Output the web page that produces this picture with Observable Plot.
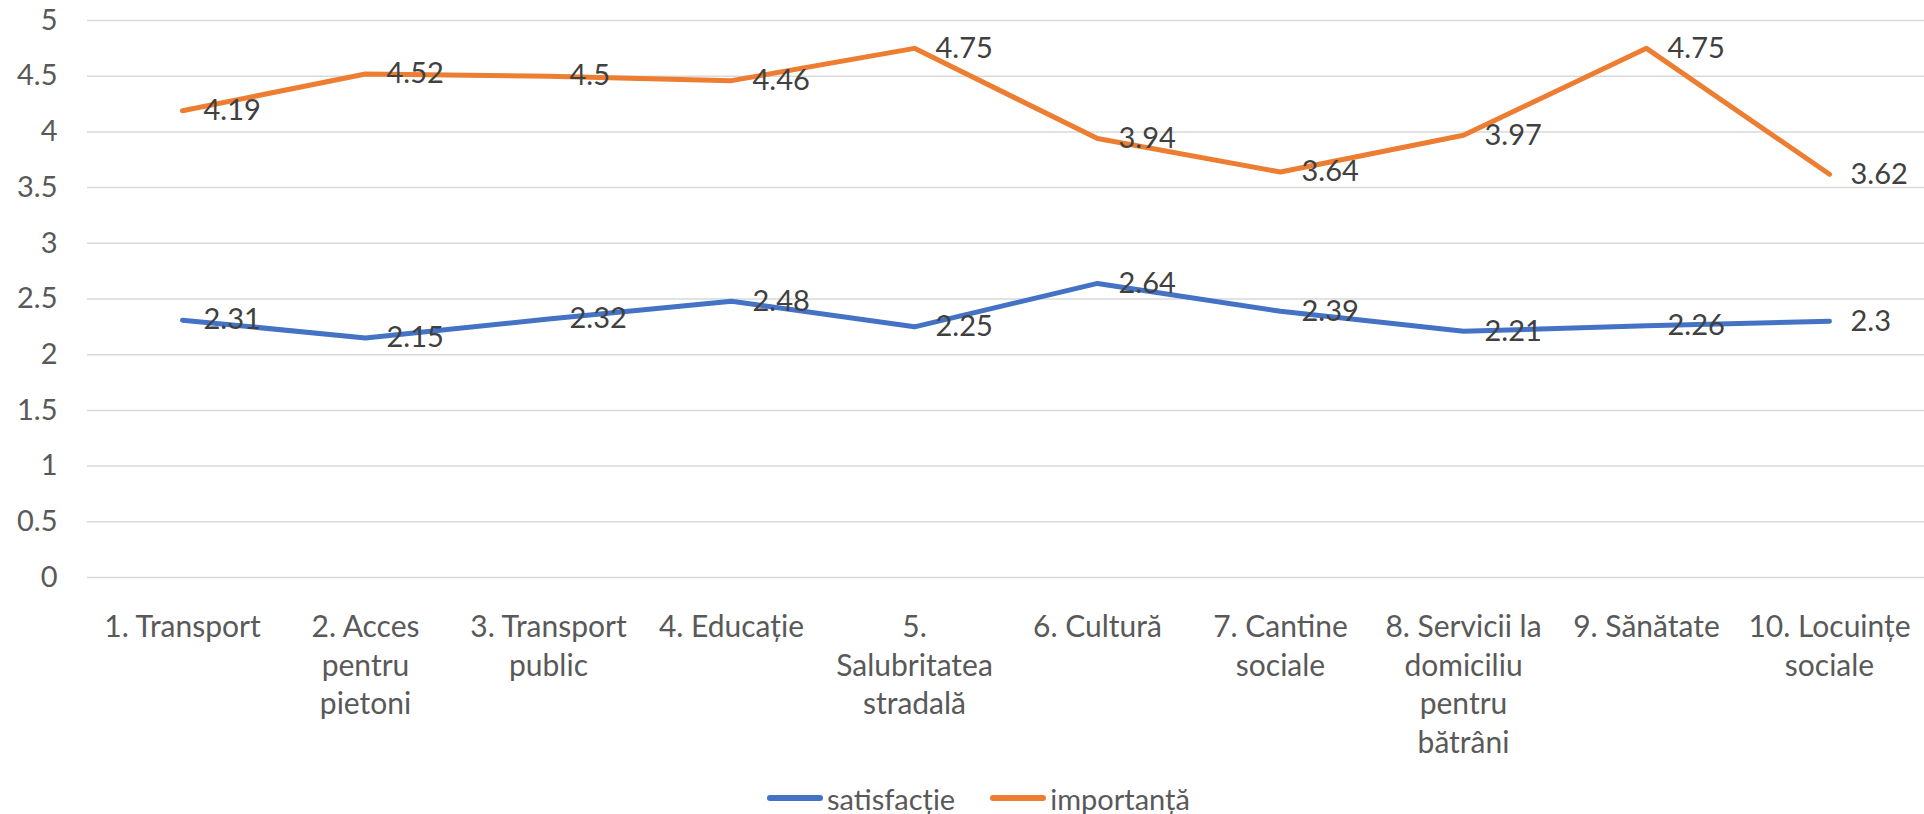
<!DOCTYPE html>
<html>
<head>
<meta charset="utf-8">
<script src="https://cdn.jsdelivr.net/npm/d3@7"></script>
<script src="https://cdn.jsdelivr.net/npm/@observablehq/plot@0.6"></script>
<style>
  html, body { margin: 0; padding: 0; background: #fff; }
  body { width: 1924px; height: 814px; overflow: hidden; font-family: Lato, "Open Sans", sans-serif; }
  #chart svg { display: block; }
  #legend { box-sizing: border-box; display: flex; align-items: center; height: 49px; padding-top: 17px; padding-left: 767px; color: #595959; font-size: 29px; line-height: 1; }
  .item { display: flex; align-items: center; margin-right: 35px; }
  .sw { width: 56px; height: 5.5px; border-radius: 3px; margin-right: 4px; }
</style>
</head>
<body>
<div id="chart"></div>
<div id="legend"></div>
<script>
const categories = [
  "1. Transport",
  "2. Acces\npentru\npietoni",
  "3. Transport\npublic",
  "4. Educație",
  "5.\nSalubritatea\nstradală",
  "6. Cultură",
  "7. Cantine\nsociale",
  "8. Servicii la\ndomiciliu\npentru\nbătrâni",
  "9. Sănătate",
  "10. Locuințe\nsociale"
];
const satisfactie = [2.31, 2.15, 2.32, 2.48, 2.25, 2.64, 2.39, 2.21, 2.26, 2.3];
const importanta = [4.19, 4.52, 4.5, 4.46, 4.75, 3.94, 3.64, 3.97, 4.75, 3.62];
const seriesNames = ["satisfacție", "importanță"];
const seriesColors = ["#4472C4", "#ED7D31"];
const yTicks = [0, 0.5, 1, 1.5, 2, 2.5, 3, 3.5, 4, 4.5, 5];

const data = [];
categories.forEach((c, i) => {
  data.push({cat: c, serie: seriesNames[0], v: satisfactie[i]});
  data.push({cat: c, serie: seriesNames[1], v: importanta[i]});
});

const chart = Plot.plot({
  width: 1924,
  height: 765,
  marginTop: 20,
  marginBottom: 188,
  marginLeft: 87,
  marginRight: 0,
  style: {fontFamily: "Lato, 'Open Sans', sans-serif", fontSize: "29px", color: "#595959", background: "white"},
  x: {type: "point", domain: categories, padding: 0.5, label: null},
  y: {domain: [0, 5], label: null},
  color: {domain: seriesNames, range: seriesColors},
  marks: [
    Plot.ruleY(yTicks, {stroke: "#D9D9D9", strokeWidth: 1.5}),
    Plot.axisY(yTicks, {tickSize: 0, tickPadding: 30, tickFormat: d => String(d), label: null, fill: "#595959"}),
    Plot.axisX({tickSize: 0, tickPadding: 32, fontSize: 30, lineHeight: 1.29, label: null, fill: "#595959"}),
    Plot.line(data, {x: "cat", y: "v", z: "serie", stroke: "serie", strokeWidth: 5, strokeLinecap: "round", strokeLinejoin: "round"}),
    Plot.text(data, {x: "cat", y: "v", text: d => String(d.v), dx: 21, textAnchor: "start", fill: "#404040"})
  ]
});
document.getElementById("chart").appendChild(chart);

const legend = document.getElementById("legend");
seriesNames.forEach((n, i) => {
  const it = document.createElement("div");
  it.className = "item";
  const sw = document.createElement("div");
  sw.className = "sw";
  sw.style.background = seriesColors[i];
  const t = document.createElement("span");
  t.textContent = n;
  it.appendChild(sw);
  it.appendChild(t);
  legend.appendChild(it);
});
</script>
</body>
</html>
